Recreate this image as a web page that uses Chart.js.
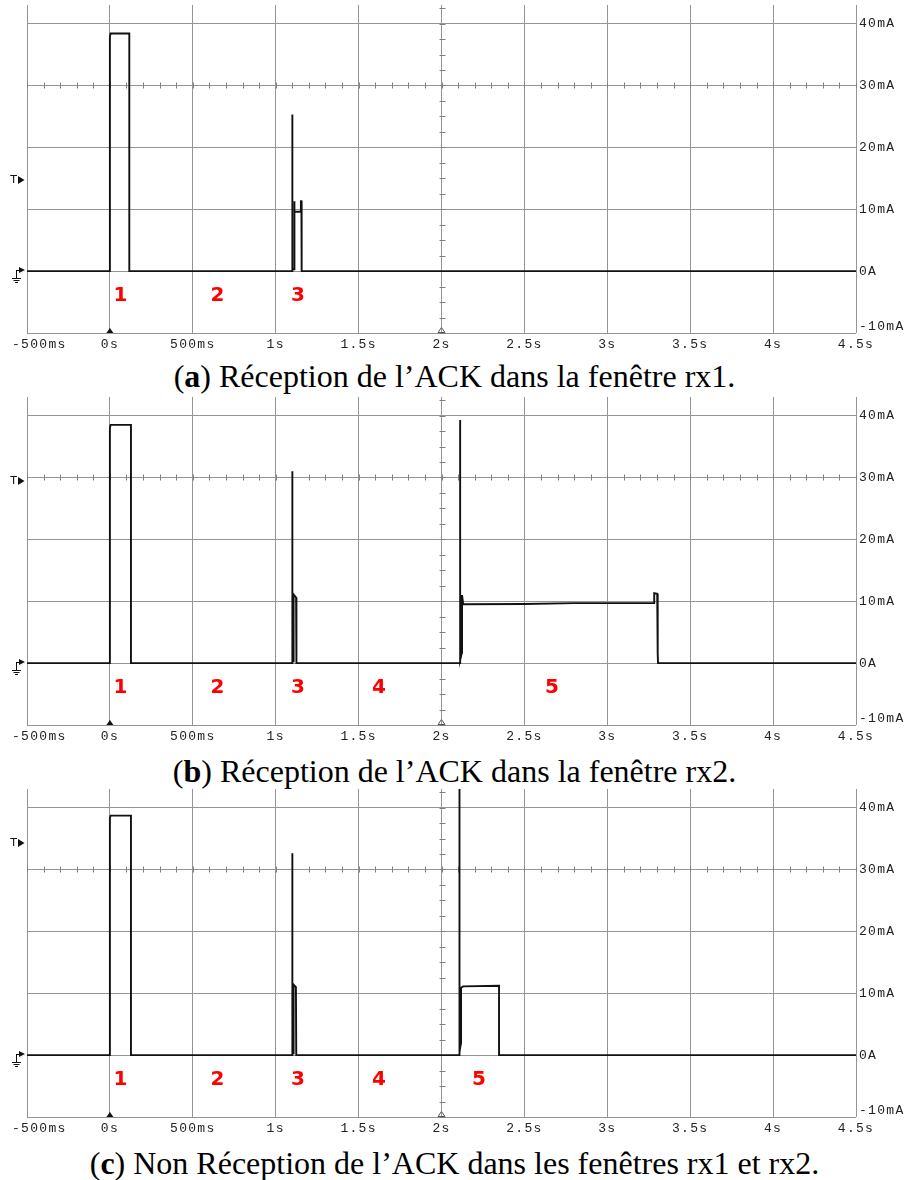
<!DOCTYPE html>
<html>
<head>
<meta charset="utf-8">
<script src="https://cdn.jsdelivr.net/npm/chart.js@4.4.1/dist/chart.umd.min.js"></script>
<style>
    body { margin: 0; background: #fff; width: 909px; height: 1180px; overflow: hidden; position: relative; }
    canvas { position: absolute; left: 0; }
    .cap { position: absolute; left: 0; width: 909px; text-align: center; font-family: "Liberation Serif", serif; font-size: 32px; line-height: 36px; color: #000; white-space: nowrap; }
</style>
</head>
<body>
<canvas id="chtA" width="909" height="356" style="top:0px"></canvas>
<div class="cap" style="top:358px">(<b>a</b>) Réception de l’ACK dans la fenêtre rx1.</div>
<canvas id="chtB" width="909" height="356" style="top:392px"></canvas>
<div class="cap" style="top:753px">(<b>b</b>) Réception de l’ACK dans la fenêtre rx2.</div>
<canvas id="chtC" width="909" height="356" style="top:784px"></canvas>
<div class="cap" style="top:1145px">(<b>c</b>) Non Réception de l’ACK dans les fenêtres rx1 et rx2.</div>
<script>
'use strict';

// axes
const xTickValues = [-0.5, 0, 0.5, 1, 1.5, 2, 2.5, 3, 3.5, 4, 4.5];
const xTickLabels = ['-500ms', '0s', '500ms', '1s', '1.5s', '2s', '2.5s', '3s', '3.5s', '4s', '4.5s'];
const yTickValues = [-10, 0, 10, 20, 30, 40];
const yTickLabels = ['-10mA', '0A', '10mA', '20mA', '30mA', '40mA'];

// traces (s, mA)
const timeA = [-0.5, 0, 0, 0.004, 0.117, 0.117, 1.100, 1.100, 1.101, 1.111, 1.112, 1.112, 1.115, 1.150, 1.152, 1.155, 1.155, 1.158, 4.5];
const currentA = [0, 0, 37.9, 38.4, 38.4, 0, 0, 25.3, 0.3, 0.3, 1.8, 11.3, 9.6, 9.6, 11.3, 11.3, 1.8, 0, 0];

const timeB = [-0.5, 0, 0, 0.004, 0.127, 0.127, 1.100, 1.100, 1.101, 1.108, 1.108, 1.123, 1.125, 2.112, 2.112, 2.113, 2.123, 2.124, 2.124, 2.131, 2.5, 2.8, 3.282, 3.283, 3.301, 3.304, 3.306, 4.5];
const currentB = [0, 0, 38.0, 38.5, 38.5, 0, 0, 31.0, 0.3, 0.3, 11.1, 10.6, 0, 0, 39.3, 0.5, 1.7, 1.7, 11.0, 9.5, 9.55, 9.7, 9.7, 11.3, 11.2, 1.5, 0, 0];

const timeC = [-0.5, 0, 0, 0.004, 0.127, 0.127, 1.100, 1.100, 1.101, 1.108, 1.108, 1.122, 1.124, 2.108, 2.108, 2.109, 2.117, 2.118, 2.118, 2.130, 2.347, 2.347, 4.5];
const currentC = [0, 0, 38.3, 38.7, 38.7, 0, 0, 32.6, 0.3, 0.3, 11.4, 11.0, 0, 0, 44, 0.5, 1.9, 1.9, 10.9, 11.1, 11.2, 0, 0];

// phase numbers
const phaseLabelsA = ['1', '2', '3'];
const phaseTimesA = [0.064, 0.649, 1.134];
const phaseLabelsBC = ['1', '2', '3', '4', '5'];
const phaseTimesB = [0.064, 0.649, 1.134, 1.623, 2.666];
const phaseTimesC = [0.064, 0.649, 1.134, 1.623, 2.226];
const phaseLevel = -4;

// trigger level (T marker), center cross
const triggerLevels = [14.8, 29.5, 34.2];
const centerTime = 2;
const centerLevel = 30;

const scopeDecor = {
    id: 'scopeDecor',
    beforeDatasetsDraw(chart) {
        const ctx = chart.ctx;
        const x = chart.scales.x, y = chart.scales.y;
        ctx.save();
        ctx.strokeStyle = '#808080';
        ctx.lineWidth = 1;
        ctx.beginPath();
        var yc = Math.round(y.getPixelForValue(centerLevel)) + 0.5;
        for (var i = 0; i <= 50; i++) {
            var px = Math.round(x.getPixelForValue(-0.5 + i * 0.1)) + 0.5;
            ctx.moveTo(px, yc - 3);
            ctx.lineTo(px, yc + 3);
        }
        var xc = Math.round(x.getPixelForValue(centerTime)) + 0.5;
        for (var j = 0; j <= 21; j++) {
            var py = Math.round(y.getPixelForValue(-10 + j * 2.5)) + 0.5;
            ctx.moveTo(xc - 3, py);
            ctx.lineTo(xc + 3, py);
        }
        ctx.stroke();
        ctx.restore();
    },
    afterDraw(chart, args, opts) {
        const ctx = chart.ctx;
        const x = chart.scales.x, y = chart.scales.y;
        const area = chart.chartArea;
        ctx.save();

        // tick labels
        ctx.fillStyle = '#222';
        ctx.font = '13px "Liberation Mono", monospace';
        ctx.letterSpacing = '1.3px';
        ctx.textBaseline = 'middle';
        ctx.textAlign = 'center';
        xTickValues.forEach((v, i) => {
            var w = ctx.measureText(xTickLabels[i]).width;
            var cx = Math.max(x.getPixelForValue(v), 12 + w / 2);
            ctx.fillText(xTickLabels[i], cx, area.bottom + 12);
        });
        ctx.textAlign = 'left';
        yTickValues.forEach((v, i) => {
            var cy = Math.min(y.getPixelForValue(v), area.bottom - 6);
            ctx.fillText(yTickLabels[i], area.right + 3, cy);
        });
        ctx.letterSpacing = '0px';

        // bottom markers: trigger time (filled) and center (hollow)
        var bx = x.getPixelForValue(0), by = area.bottom;
        ctx.fillStyle = '#111';
        ctx.beginPath();
        ctx.moveTo(bx - 3.5, by); ctx.lineTo(bx, by - 5); ctx.lineTo(bx + 3.5, by); ctx.closePath();
        ctx.fill();
        var cx2 = x.getPixelForValue(centerTime);
        ctx.strokeStyle = '#555';
        ctx.beginPath();
        ctx.moveTo(cx2 - 3.5, by - 0.5); ctx.lineTo(cx2, by - 5.5); ctx.lineTo(cx2 + 3.5, by - 0.5); ctx.closePath();
        ctx.stroke();

        // T marker
        var ty = Math.round(y.getPixelForValue(opts.trigger));
        ctx.fillStyle = '#111';
        ctx.font = '11px "DejaVu Sans", sans-serif';
        ctx.textAlign = 'center';
        ctx.fillText('T', 13.5, ty);
        ctx.beginPath();
        ctx.moveTo(18, ty - 4); ctx.lineTo(24.5, ty); ctx.lineTo(18, ty + 4); ctx.closePath();
        ctx.fill();

        // ground marker
        var gy = Math.round(y.getPixelForValue(0));
        ctx.beginPath();
        ctx.moveTo(19, gy - 4); ctx.lineTo(25, gy - 1); ctx.lineTo(19, gy + 2); ctx.closePath();
        ctx.fill();
        ctx.strokeStyle = '#111';
        ctx.lineWidth = 1;
        ctx.beginPath();
        ctx.moveTo(16.5, gy - 1); ctx.lineTo(16.5, gy + 7);
        ctx.moveTo(16.5, gy - 0.5); ctx.lineTo(20, gy - 0.5);
        ctx.moveTo(12, gy + 7.5); ctx.lineTo(21, gy + 7.5);
        ctx.moveTo(13.5, gy + 9.5); ctx.lineTo(19.5, gy + 9.5);
        ctx.moveTo(15, gy + 11.5); ctx.lineTo(18, gy + 11.5);
        ctx.stroke();

        // phase numbers
        ctx.fillStyle = '#ff0000';
        ctx.font = 'bold 20px "DejaVu Sans", sans-serif';
        ctx.textAlign = 'center';
        opts.phaseLabels.forEach((lbl, i) => {
            ctx.fillText(lbl, x.getPixelForValue(opts.phaseTimes[i]), y.getPixelForValue(phaseLevel));
        });
        ctx.restore();
    }
};

function buildScope(canvasID, times, currents, phaseLabels, phaseTimes, trigger) {
    var points = times.map((t, i) => { return { x: t, y: currents[i] } });
    return new Chart(document.getElementById(canvasID), {
        type: 'line',
        data: {
            datasets: [{
                data: points,
                borderColor: '#111',
                borderWidth: 1.9,
                pointRadius: 0,
                tension: 0,
                fill: false
            }]
        },
        options: {
            responsive: false,
            animation: false,
            devicePixelRatio: 1,
            events: [],
            layout: { padding: { left: 27, top: 5, right: 0, bottom: 0 } },
            plugins: {
                legend: { display: false },
                tooltip: { enabled: false },
                scopeDecor: { phaseLabels: phaseLabels, phaseTimes: phaseTimes, trigger: trigger }
            },
            scales: {
                x: {
                    type: 'linear',
                    min: -0.5,
                    max: 4.5,
                    afterBuildTicks(scale) { scale.ticks = xTickValues.map((v) => { return { value: v } }); },
                    afterFit(scale) { scale.height = 23; },
                    ticks: { display: false },
                    grid: { color: '#959595', lineWidth: 1, drawTicks: false },
                    border: { display: false }
                },
                y: {
                    position: 'right',
                    min: -10,
                    max: 43,
                    afterBuildTicks(scale) { scale.ticks = yTickValues.map((v) => { return { value: v } }); },
                    afterFit(scale) { scale.width = 53; },
                    ticks: { display: false },
                    grid: { color: '#959595', lineWidth: 1, drawTicks: false },
                    border: { display: false }
                }
            }
        },
        plugins: [scopeDecor]
    });
}

buildScope('chtA', timeA, currentA, phaseLabelsA, phaseTimesA, triggerLevels[0]);
buildScope('chtB', timeB, currentB, phaseLabelsBC, phaseTimesB, triggerLevels[1]);
buildScope('chtC', timeC, currentC, phaseLabelsBC, phaseTimesC, triggerLevels[2]);
</script>
</body>
</html>
